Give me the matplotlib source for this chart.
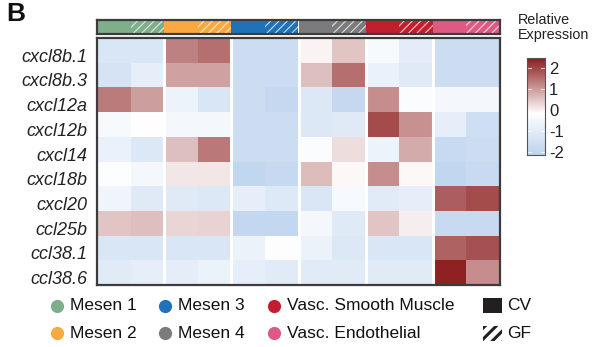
import numpy as np
import matplotlib
matplotlib.use("Agg")
import matplotlib.pyplot as plt
import matplotlib.transforms as mtransforms
from matplotlib.colors import LinearSegmentedColormap, TwoSlopeNorm
from matplotlib.patches import Rectangle

plt.rcParams['font.family'] = ['Liberation Sans', 'DejaVu Sans']

genes = ["cxcl8b.1", "cxcl8b.3", "cxcl12a", "cxcl12b", "cxcl14",
         "cxcl18b", "cxcl20", "ccl25b", "ccl38.1", "ccl38.6"]
groups = ["Mesen 1", "Mesen 2", "Mesen 3", "Mesen 4",
          "Vasc. Smooth Muscle", "Vasc. Endothelial"]
group_colors = ["#7fae8b", "#f9a93f", "#1f72b8", "#7b7b7e", "#c0202e", "#dd5a84"]
conditions = ["CV", "GF"]

# columns: M1 CV, M1 GF, M2 CV, M2 GF, M3 CV, M3 GF, M4 CV, M4 GF, VSM CV, VSM GF, VE CV, VE GF
expr_cxcl8b_1 = [-1.3, -1.3, 1.3, 1.5, -1.7, -1.7, -0.05, 0.5, -0.4, -1.0, -1.7, -1.7]
expr_cxcl8b_3 = [-1.4, -0.9, 0.9, 0.9, -1.7, -1.7, 0.55, 1.5, -0.8, -1.1, -1.7, -1.7]
expr_cxcl12a = [1.35, 0.95, -0.7, -1.3, -1.7, -1.9, -1.2, -1.9, 1.15, -0.3, -0.5, -0.5]
expr_cxcl12b = [-0.4, -0.2, -0.5, -0.5, -1.7, -1.7, -1.2, -1.1, 1.9, 1.1, -0.9, -1.6]
expr_cxcl14 = [-0.8, -1.2, 0.55, 1.4, -1.7, -1.7, -0.3, 0.2, -0.7, 0.8, -1.8, -1.7]
expr_cxcl18b = [-0.25, -0.5, 0.1, 0.1, -2.0, -1.85, 0.6, -0.1, 1.15, -0.1, -2.0, -1.8]
expr_cxcl20 = [-0.6, -1.1, -1.1, -1.2, -0.9, -1.15, -1.3, -0.45, -1.05, -0.9, 1.7, 1.9]
expr_ccl25b = [0.5, 0.55, 0.3, 0.35, -1.95, -1.95, -0.5, -1.1, 0.5, 0.0, -1.8, -1.8]
expr_ccl38_1 = [-1.3, -1.3, -1.3, -1.3, -0.75, -0.15, -0.75, -1.2, -1.3, -1.3, 1.65, 1.85]
expr_ccl38_6 = [-1.05, -0.9, -0.95, -0.75, -0.9, -1.05, -1.05, -1.05, -1.05, -1.05, 2.4, 1.15]

values = np.array([expr_cxcl8b_1, expr_cxcl8b_3, expr_cxcl12a, expr_cxcl12b,
                   expr_cxcl14, expr_cxcl18b, expr_cxcl20, expr_ccl25b,
                   expr_ccl38_1, expr_ccl38_6])

cbar_ticks = [-2, -1, 0, 1, 2]
vmin, vmax = -2.15, 2.5

cmap = LinearSegmentedColormap.from_list(
    "rel", [(0.0, "#bdd3ee"), (2.15 / 4.65, "#ffffff"), (1.0, "#8a1a1a")])
norm = TwoSlopeNorm(vcenter=0.0, vmin=vmin, vmax=vmax)

W, H = 592, 347
fig = plt.figure(figsize=(W / 100, H / 100), dpi=100)

def fbox(x0, y0, x1, y1):
    return [x0 / W, 1 - y1 / H, (x1 - x0) / W, (y1 - y0) / H]

border_col = "#3c3c3c"

# heatmap
ax = fig.add_axes(fbox(97, 38, 500, 285))
nrow, ncol = values.shape
ax.pcolormesh(np.arange(ncol + 1), np.arange(nrow + 1), values, cmap=cmap, norm=norm,
              edgecolors="none")
ax.set_xlim(0, ncol)
ax.set_ylim(nrow, 0)
for g in range(1, len(groups)):
    ax.axvline(2 * g, color="white", lw=2.2)
ax.set_xticks([])
ax.set_yticks(np.arange(nrow) + 0.5)
ax.set_yticklabels(genes, fontstyle="italic", fontsize=13, color="#222222")
ax.tick_params(axis="y", length=0, pad=7)
offset = mtransforms.ScaledTranslation(0, -3.5 / 72, fig.dpi_scale_trans)
for lab in ax.get_yticklabels():
    lab.set_transform(lab.get_transform() + offset)
for s in ax.spines.values():
    s.set_color(border_col)
    s.set_linewidth(1.6)

# top annotation
axa = fig.add_axes(fbox(97, 20, 500, 34))
for gi, col in enumerate(group_colors):
    for ci, cond in enumerate(conditions):
        x = 2 * gi + ci
        axa.add_patch(Rectangle((x, 0), 1, 1, facecolor=col, edgecolor="none"))
        if cond == "GF":
            with plt.rc_context({"hatch.linewidth": 0.8, "hatch.color": "white"}):
                p = Rectangle((x, 0), 1, 1, facecolor="none", edgecolor=(1, 1, 1, 0.75),
                              hatch="////", lw=0)
            axa.add_patch(p)
axa.set_xlim(0, ncol)
axa.set_ylim(0, 1)
axa.set_xticks([])
axa.set_yticks([])
for s in axa.spines.values():
    s.set_color(border_col)
    s.set_linewidth(1.6)

# colorbar
axc = fig.add_axes(fbox(527, 58, 545, 155))
grad = np.linspace(vmin, vmax, 256).reshape(-1, 1)
axc.imshow(grad, aspect="auto", cmap=cmap, norm=norm, origin="lower",
           extent=[0, 1, vmin, vmax])
axc.set_xlim(0, 1)
axc.set_ylim(vmin, vmax)
axc.set_xticks([])
axc.yaxis.tick_right()
axc.set_yticks(cbar_ticks)
axc.set_yticklabels([str(t) for t in cbar_ticks], fontsize=12, color="#222222")
axc.tick_params(axis="y", length=0, pad=3)
for t in cbar_ticks:
    axc.plot([0, 0.2], [t, t], color="white", lw=0.8, alpha=0.7)
    axc.plot([0.8, 1], [t, t], color="white", lw=0.8, alpha=0.7)
for s in axc.spines.values():
    s.set_color("#555555")
    s.set_linewidth(0.8)
fig.text(518 / W, 1 - 13 / H, "Relative\nExpression", ha="left", va="top",
         fontsize=10.4, color="#222222", linespacing=1.05)

# panel letter
fig.text(6 / W, 1 - 2 / H, "B", ha="left", va="top", fontsize=19,
         fontweight="bold", color="#111111")

# legend
axl = fig.add_axes([0, 0, 1, 1], facecolor="none")
axl.set_xlim(0, W)
axl.set_ylim(H, 0)
axl.axis("off")
leg_pos = [(57, 306), (57, 333), (165, 306), (165, 333), (274, 306), (274, 333)]
for (lx, ly), name, col in zip(leg_pos, groups, group_colors):
    axl.plot(lx, ly, "o", ms=9.5, color=col, mec="none")
    axl.text(lx + 13, ly, name, ha="left", va="center", fontsize=12.5, color="#111111")
axl.add_patch(Rectangle((483, 298), 19, 15, facecolor="#231f20", edgecolor="none"))
axl.text(507, 305, "CV", ha="left", va="center", fontsize=12.5, color="#111111")
with plt.rc_context({"hatch.linewidth": 2.2, "hatch.color": "#231f20"}):
    gp = Rectangle((483, 326), 19, 15, facecolor="white", edgecolor="#231f20",
                   hatch="///", lw=0)
axl.add_patch(gp)
axl.text(507, 333, "GF", ha="left", va="center", fontsize=12.5, color="#111111")

fig.savefig("out.png", dpi=100)
